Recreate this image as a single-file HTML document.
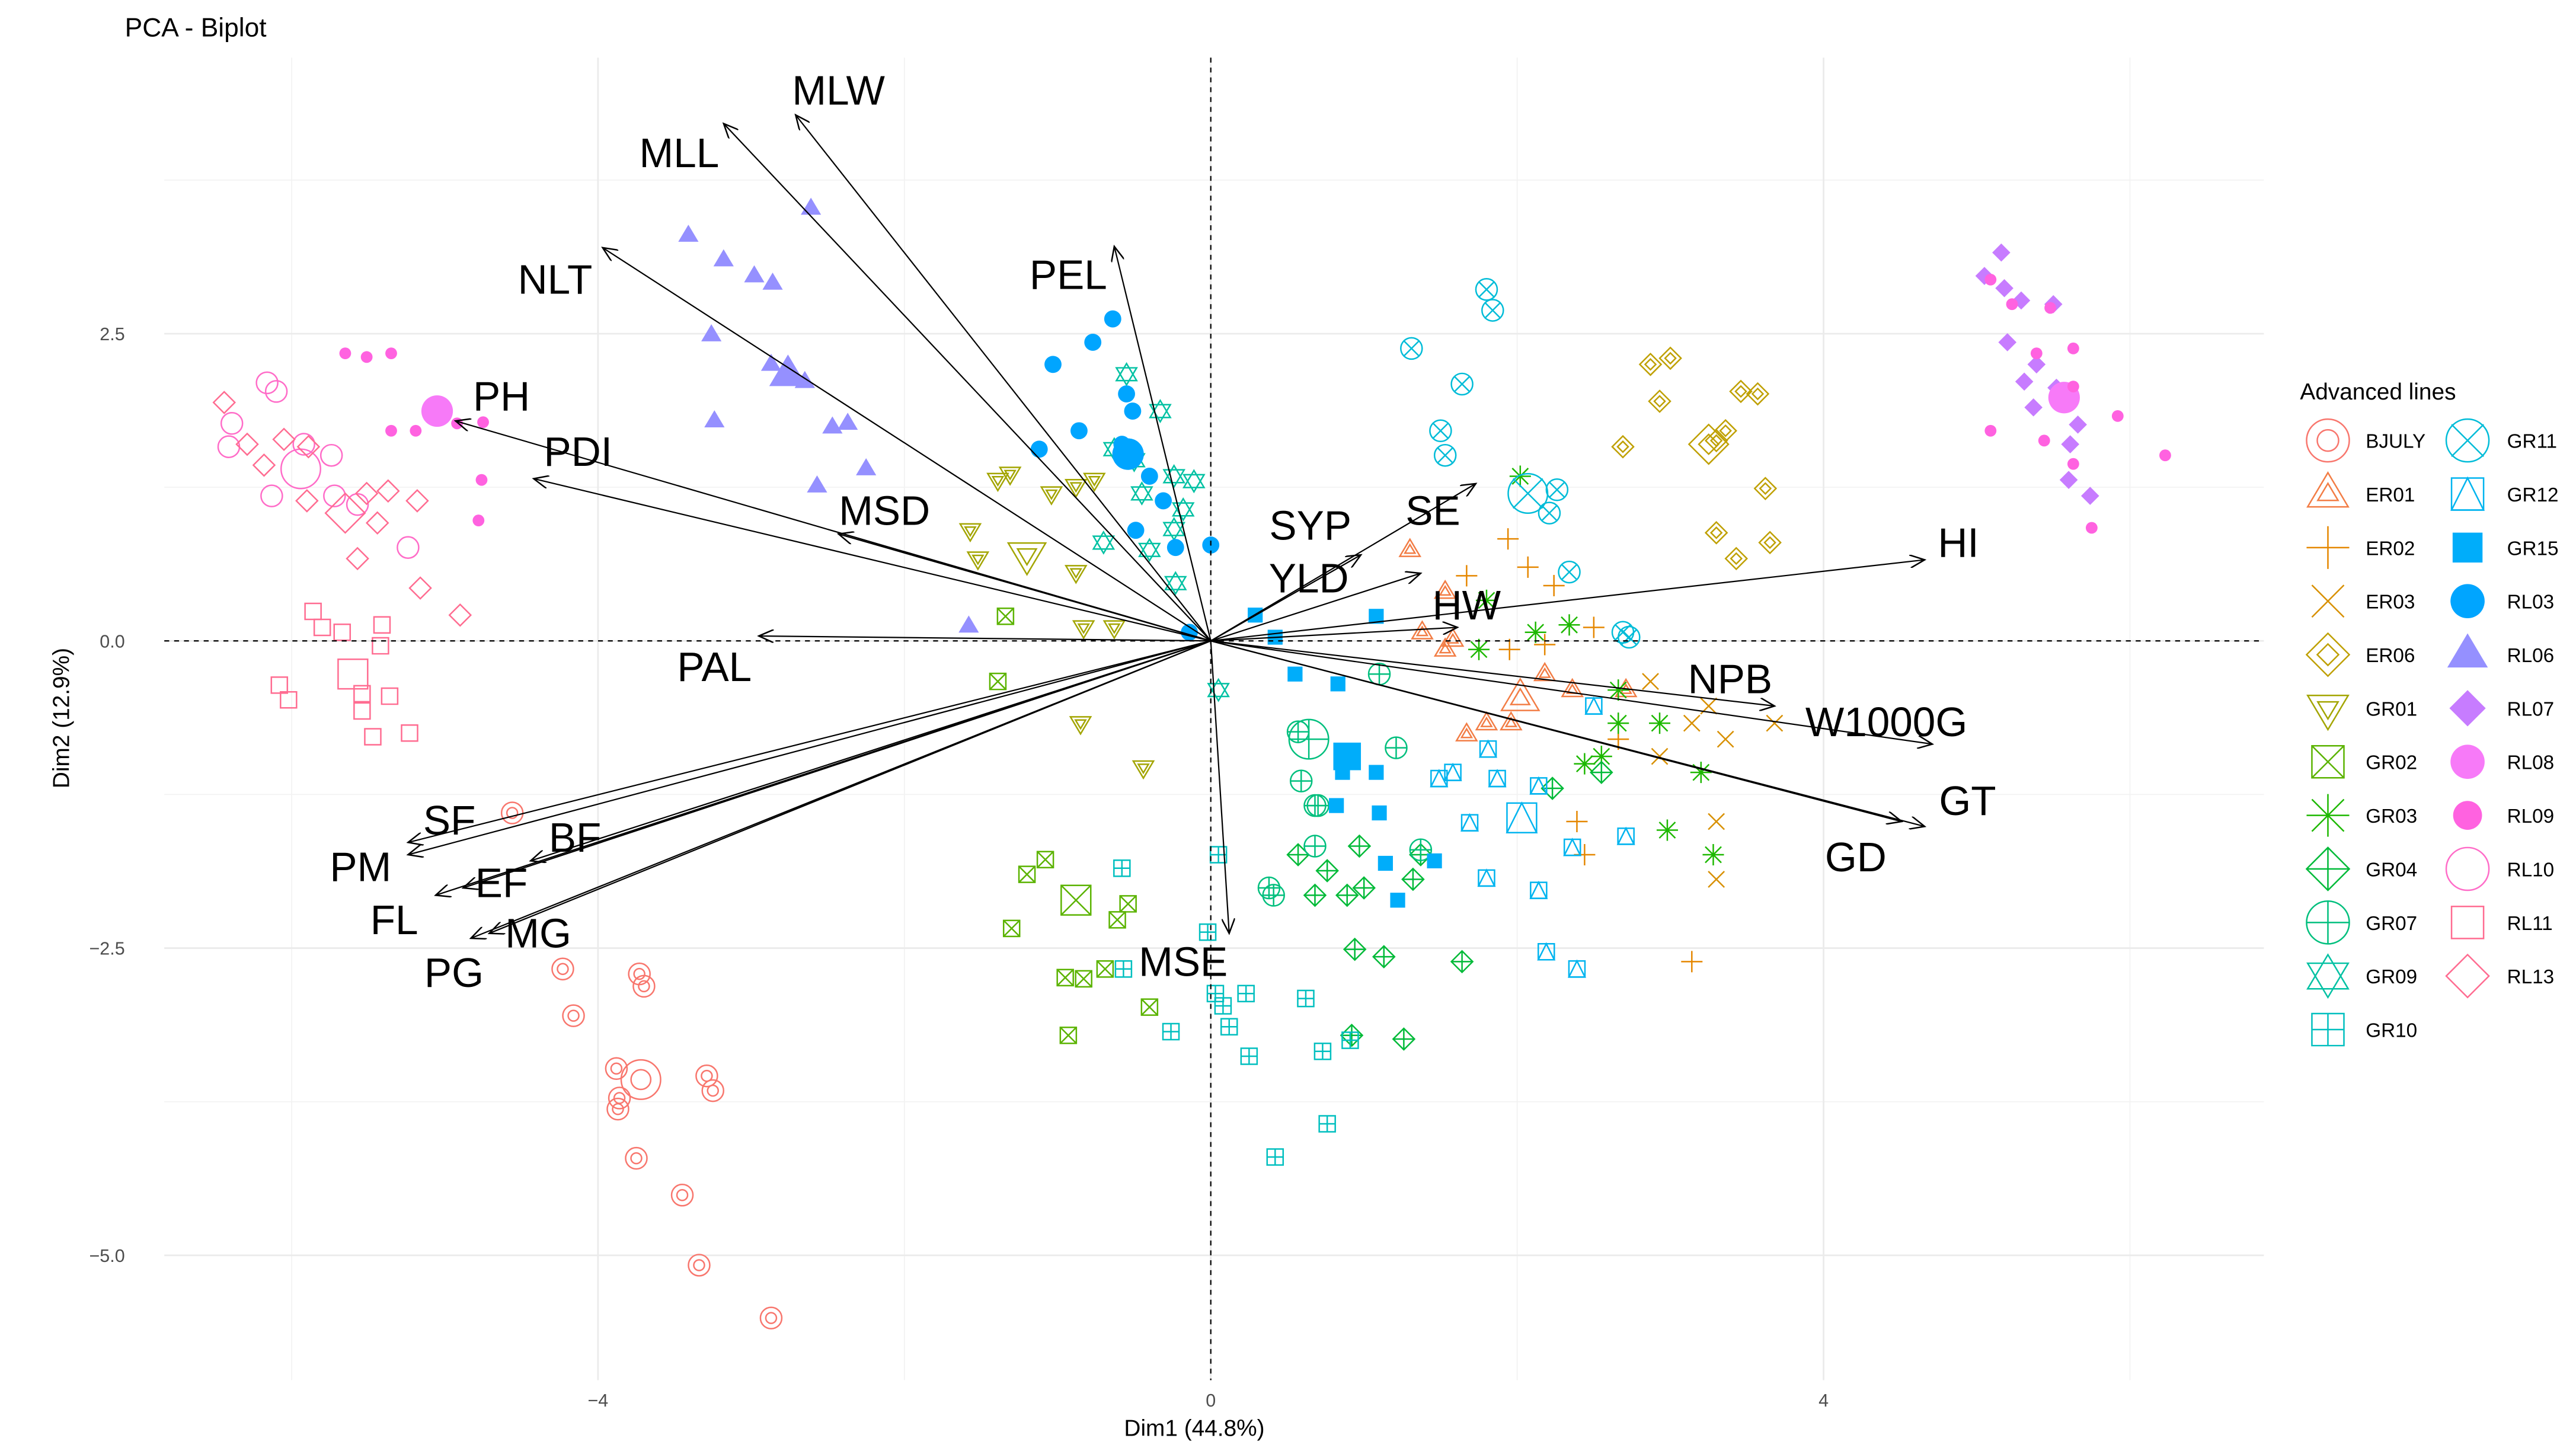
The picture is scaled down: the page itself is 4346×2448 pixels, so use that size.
<!DOCTYPE html>
<html><head><meta charset="utf-8"><style>html,body{margin:0;padding:0;background:#fff}svg{display:block}</style></head>
<body>
<svg id="chart" width="4346" height="2448" viewBox="0 0 1568 883" xmlns="http://www.w3.org/2000/svg" font-family="'Liberation Sans', Arial, sans-serif">
<text x="76" y="22" font-size="16" fill="#000">PCA - Biplot</text>
<g id="grid"></g><g id="pts"></g><g id="arrows"></g><g id="axes"></g><g id="legend"></g>
</svg>
<script>
const groupNames=["BJULY","ER01","ER02","ER03","ER06","GR01","GR02","GR03","GR04","GR07","GR09","GR10","GR11","GR12","GR15","RL03","RL06","RL07","RL08","RL09","RL10","RL11","RL13"];
const groupColors=["#F8766D","#F27D45","#E58700","#D89000","#BFA000","#A3A500","#5BB300","#1DB800","#00BA38","#00BF7D","#00C1A3","#00BFBF","#00BCD8","#00B4EF","#00ADFA","#00A5FF","#9590FF","#C77CFF","#F77AF8","#FF62E0","#FF6CC8","#FF6C91","#FF6C91"];
const groupShapes=["circle2","tri2","plus","x","diamond2","tridown2","sqx","asterisk","diamondplus","circleplus","star","sqplus","circlex","sqtri","sqfill","circfill","trifill","diamfill","circfillbig","circfillsmall","circle","square","diamond"];
const bigIdx=[8,5,-1,-1,8,4,2,-1,-1,10,-1,-1,6,5,5,6,7,-1,0,-1,5,4,6];
const xs=[
[-4.56,-4.23,-4.16,-3.73,-3.70,-3.88,-3.86,-3.87,-3.72,-3.29,-3.25,-3.75,-3.45,-3.34,-2.87],
[1.30,1.53,1.58,1.38,1.67,2.02,1.96,2.36,1.80,2.18,2.71,1.53],
[1.94,1.67,2.07,2.24,2.50,2.18,1.95,2.66,2.44,2.39,3.14],
[2.87,3.25,2.93,3.30,3.30,3.68,3.14,3.36],
[2.87,3.00,2.93,2.69,3.46,3.57,3.30,3.36,3.25,3.62,3.30,3.65,3.43],
[-1.31,-1.39,-1.57,-1.52,-1.20,-0.88,-1.04,-0.88,-0.76,-0.83,-0.63,-0.85,-0.44],
[-1.34,-1.39,-0.88,-1.20,-1.08,-1.30,-0.95,-0.83,-0.69,-0.93,-0.40,-0.54,-0.61],
[2.02,1.80,2.12,2.34,2.66,2.93,2.66,2.44,2.98,3.28,3.20,1.75,2.55],
[0.57,0.76,0.97,0.89,1.00,0.68,0.94,1.13,0.92,1.26,1.64,1.32,2.23,2.55,1.37],
[0.57,0.68,0.59,0.70,0.68,0.38,0.41,1.10,1.21,1.37,0.64],
[-0.55,-0.33,-0.63,-0.50,-0.24,-0.11,-0.24,-0.40,-0.23,-0.70,0.05,-0.45,-0.18],
[-0.58,-0.57,-0.26,0.05,-0.02,0.03,0.08,0.12,0.23,0.25,0.62,0.73,0.91,0.76,0.42],
[1.80,1.84,1.31,1.64,1.50,1.53,2.07,2.26,2.21,2.34,2.69,2.73],
[1.49,1.58,1.81,1.87,1.69,2.03,2.14,2.36,2.71,1.80,2.14,2.19,2.39,2.50],
[0.29,0.42,1.08,0.55,0.83,0.89,0.86,1.08,1.10,1.14,1.46,1.22,0.82],
[-0.64,-0.77,-1.03,-0.86,-0.55,-0.58,-0.54,-1.12,-0.40,-0.31,-0.49,-0.23,0.00,-0.14,-0.51],
[-3.41,-2.61,-3.18,-2.98,-2.86,-3.26,-2.87,-2.76,-2.65,-3.24,-2.47,-2.37,-2.25,-2.57,-1.58],
[5.16,5.05,5.18,5.29,5.50,5.20,5.39,5.31,5.52,5.37,5.66,5.61,5.74,5.60],
[5.57,-5.05],
[5.09,5.23,5.48,5.39,5.63,5.63,5.09,5.44,5.63,5.92,6.23,5.75,-5.65,-5.51,-5.35,-5.35,-5.19,-4.92,-4.75,-4.76,-4.78],
[-6.16,-6.10,-6.39,-6.41,-6.13,-5.94,-5.74,-5.72,-5.57,-5.24,-5.92],
[-5.86,-5.80,-5.67,-5.41,-5.60,-5.42,-6.08,-6.02,-5.54,-5.36,-5.54,-5.47,-5.23],
[-6.44,-6.29,-6.18,-6.05,-5.89,-5.90,-5.65,-5.51,-5.37,-5.18,-5.44,-5.57,-5.16,-4.90]];
const ys=[
[-1.40,-2.67,-3.05,-2.71,-2.81,-3.48,-3.72,-3.81,-3.57,-3.54,-3.66,-4.21,-4.51,-5.08,-5.51],
[0.74,0.40,0.01,0.07,-0.76,-0.47,-0.67,-0.40,-0.67,-0.27,-0.40,-0.07],
[0.83,0.53,0.60,0.45,0.11,-0.03,-0.07,-0.80,-1.74,-1.47,-2.61],
[-0.33,-0.53,-0.94,-1.47,-1.94,-0.67,-0.67,-0.80],
[2.25,2.30,1.95,1.58,2.03,2.01,1.63,1.71,1.60,1.24,0.88,0.80,0.67],
[1.36,1.31,0.90,0.67,0.70,0.56,1.20,1.26,1.31,0.11,0.11,-0.67,-1.03],
[0.20,-0.33,-2.11,-1.90,-1.78,-2.34,-2.74,-2.75,-2.67,-3.21,-2.98,-2.14,-2.27],
[1.34,0.33,0.07,0.13,-0.40,-0.67,-0.67,-1.00,-1.54,-1.74,-1.07,-0.07,-0.94],
[-1.74,-1.87,-1.67,-2.07,-2.01,-2.07,-2.51,-2.57,-3.21,-3.24,-2.61,-1.94,-1.20,-1.07,-1.74],
[-0.74,-1.34,-1.14,-1.34,-1.67,-2.01,-2.07,-0.27,-0.87,-1.70,-0.80],
[2.17,1.87,1.56,1.47,1.34,1.30,0.91,0.74,0.47,0.80,-0.40,1.20,1.07],
[-1.85,-2.67,-3.18,-1.74,-2.37,-2.87,-2.97,-3.14,-2.87,-3.38,-2.91,-3.34,-3.25,-3.93,-4.20],
[2.86,2.69,2.38,2.09,1.71,1.51,1.20,1.23,1.04,0.56,0.07,0.03],
[-1.12,-1.07,-0.88,-1.12,-1.48,-1.44,-1.18,-1.68,-1.59,-1.93,-2.03,-2.53,-2.67,-0.53],
[0.21,0.03,0.20,-0.27,-0.35,-0.94,-1.07,-1.07,-1.40,-1.81,-1.79,-2.11,-1.34],
[2.62,2.43,2.25,1.71,2.01,1.60,1.52,1.56,1.34,1.14,0.90,0.76,0.78,0.07,1.87],
[3.30,3.52,3.10,2.97,2.91,2.49,2.25,2.17,2.11,1.79,1.74,1.77,1.40,1.26,0.12],
[3.16,2.97,2.87,2.77,2.74,2.43,2.25,2.11,2.06,1.90,1.76,1.60,1.18,1.31],
[1.98,1.87],
[2.94,2.74,2.71,2.34,2.38,2.07,1.71,1.63,1.44,1.83,1.51,0.92,2.34,2.31,2.34,1.71,1.71,1.77,1.78,1.31,0.98],
[2.10,2.03,1.77,1.58,1.18,1.40,1.51,1.18,1.11,0.76,1.60],
[0.24,0.11,0.07,0.13,-0.27,-0.04,-0.36,-0.48,-0.43,-0.45,-0.57,-0.78,-0.75],
[1.94,1.60,1.43,1.64,1.58,1.14,1.04,1.20,1.22,1.14,0.96,0.67,0.43,0.21]];
const varNames=["MLW","MLL","NLT","PEL","PH","PDI","MSD","PAL","SF","PM","BF","EF","FL","PG","MG","MSE","SYP","YLD","SE","HW","HI","NPB","W1000G","GT","GD"];
const varX=[-2.71,-3.18,-3.97,-0.63,-4.93,-4.42,-2.43,-2.95,-5.24,-5.24,-4.44,-4.88,-5.06,-4.83,-4.71,0.12,0.98,1.37,1.73,1.61,4.66,3.68,4.71,4.66,4.51];
const varY=[4.28,4.21,3.20,3.21,1.79,1.32,0.87,0.04,-1.64,-1.74,-1.79,-2.01,-2.07,-2.42,-2.38,-2.38,0.70,0.55,1.28,0.11,0.66,-0.53,-0.84,-1.51,-1.47];
const labX=[-2.43,-3.47,-4.28,-0.93,-4.63,-4.13,-2.13,-3.24,-4.97,-5.55,-4.15,-4.63,-5.33,-4.94,-4.39,-0.18,0.65,0.64,1.45,1.67,4.88,3.39,4.41,4.94,4.21];
const labY=[4.48,3.97,2.94,2.98,1.99,1.54,1.06,-0.21,-1.46,-1.84,-1.60,-1.97,-2.27,-2.70,-2.38,-2.61,0.94,0.51,1.06,0.29,0.80,-0.31,-0.66,-1.30,-1.76];
const xTicks=[-4,0,4], yTicks=[-5,-2.5,0,2.5];
const NS="http://www.w3.org/2000/svg";
const X0=737,XS=93.25,Y0=390,YS=74.8,PL=100,PR=1378,PT=35,PB=840;
const sx=v=>X0+v*XS, sy=v=>Y0-v*YS;
function mk(tag,at,parent){const e=document.createElementNS(NS,tag);for(const k in at)e.setAttribute(k,at[k]);parent.appendChild(e);return e;}
const grid=document.getElementById('grid');
[-6,-2,2,6].forEach(v=>mk('line',{x1:sx(v),x2:sx(v),y1:PT,y2:PB,stroke:'#F2F2F2','stroke-width':0.6},grid));
[-3.75,-1.25,1.25,3.75].forEach(v=>mk('line',{x1:PL,x2:PR,y1:sy(v),y2:sy(v),stroke:'#F2F2F2','stroke-width':0.6},grid));
xTicks.forEach(v=>mk('line',{x1:sx(v),x2:sx(v),y1:PT,y2:PB,stroke:'#EBEBEB','stroke-width':1},grid));
yTicks.forEach(v=>mk('line',{x1:PL,x2:PR,y1:sy(v),y2:sy(v),stroke:'#EBEBEB','stroke-width':1},grid));
function shape(g,type,cx,cy,r,col){
  const s={stroke:col,fill:'none','stroke-width':0.9};
  const P=(pts,extra)=>mk('polygon',Object.assign({points:pts.map(p=>p.join(',')).join(' ')},s,extra||{}),g);
  const L=(x1,y1,x2,y2)=>mk('line',Object.assign({x1,y1,x2,y2},s),g);
  const tri=(k,d)=>[[cx,cy-k*d],[cx-k*0.95,cy+k*0.6*d],[cx+k*0.95,cy+k*0.6*d]];
  const dia=k=>[[cx,cy-k],[cx+k,cy],[cx,cy+k],[cx-k,cy]];
  const sq=k=>[[cx-k,cy-k],[cx+k,cy-k],[cx+k,cy+k],[cx-k,cy+k]];
  switch(type){
    case 'circle2':mk('circle',Object.assign({cx,cy,r},s),g);mk('circle',Object.assign({cx,cy,r:r*0.5},s),g);break;
    case 'circle':mk('circle',Object.assign({cx,cy,r},s),g);break;
    case 'tri2':P(tri(r,1));P(tri(r*0.5,1));break;
    case 'tridown2':P(tri(r,-1));P(tri(r*0.5,-1));break;
    case 'plus':L(cx-r,cy,cx+r,cy);L(cx,cy-r,cx,cy+r);break;
    case 'x':L(cx-r*.75,cy-r*.75,cx+r*.75,cy+r*.75);L(cx-r*.75,cy+r*.75,cx+r*.75,cy-r*.75);break;
    case 'asterisk':L(cx-r,cy,cx+r,cy);L(cx,cy-r,cx,cy+r);L(cx-r*.75,cy-r*.75,cx+r*.75,cy+r*.75);L(cx-r*.75,cy+r*.75,cx+r*.75,cy-r*.75);break;
    case 'diamond2':P(dia(r));P(dia(r*0.5));break;
    case 'diamond':P(dia(r));break;
    case 'diamondplus':P(dia(r));L(cx-r,cy,cx+r,cy);L(cx,cy-r,cx,cy+r);break;
    case 'sqx':P(sq(r*.75));L(cx-r*.75,cy-r*.75,cx+r*.75,cy+r*.75);L(cx-r*.75,cy+r*.75,cx+r*.75,cy-r*.75);break;
    case 'sqplus':P(sq(r*.75));L(cx-r*.75,cy,cx+r*.75,cy);L(cx,cy-r*.75,cx,cy+r*.75);break;
    case 'square':P(sq(r*.75));break;
    case 'sqtri':P(sq(r*.75));P([[cx,cy-r*.75],[cx-r*.75,cy+r*.75],[cx+r*.75,cy+r*.75]]);break;
    case 'circleplus':mk('circle',Object.assign({cx,cy,r},s),g);L(cx-r,cy,cx+r,cy);L(cx,cy-r,cx,cy+r);break;
    case 'circlex':mk('circle',Object.assign({cx,cy,r},s),g);L(cx-r*.75,cy-r*.75,cx+r*.75,cy+r*.75);L(cx-r*.75,cy+r*.75,cx+r*.75,cy-r*.75);break;
    case 'star':P(tri(r,1));P(tri(r,-1));break;
    case 'sqfill':mk('rect',{x:cx-r*.7,y:cy-r*.7,width:r*1.4,height:r*1.4,fill:col},g);break;
    case 'circfill':case 'circfillbig':mk('circle',{cx,cy,r:r*.8,fill:col},g);break;
    case 'circfillsmall':mk('circle',{cx,cy,r:r*.55,fill:col},g);break;
    case 'trifill':mk('polygon',{points:tri(r,1).map(p=>p.join(',')).join(' '),fill:col},g);break;
    case 'diamfill':mk('polygon',{points:dia(r*.85).map(p=>p.join(',')).join(' '),fill:col},g);break;
  }
}
const ptsG=document.getElementById('pts');
groupNames.forEach((gname,gi)=>{
  xs[gi].forEach((xv,i)=>{
    const g=document.createElementNS(NS,'g');ptsG.appendChild(g);
    
    
    const big=(i===bigIdx[gi])||groupShapes[gi]==='circfillbig';
    shape(g,groupShapes[gi],sx(xv),sy(ys[gi][i]),big?12:6.5,groupColors[gi]);
  });
});
const ax=document.getElementById('axes');
const defs=mk('defs',{},ax);
const m=mk('marker',{id:'ah',markerWidth:10,markerHeight:8,refX:9,refY:4,orient:'auto',markerUnits:'userSpaceOnUse'},defs);
mk('path',{d:'M0,0 L9,4 L0,8',fill:'none',stroke:'#000','stroke-width':0.9},m);
let e;
e=mk('line',{x1:sx(0),x2:sx(0),y1:PT,y2:PB,stroke:'#000','stroke-width':0.8,'stroke-dasharray':'3,3'},ax);

e=mk('line',{x1:PL,x2:PR,y1:sy(0),y2:sy(0),stroke:'#000','stroke-width':0.8,'stroke-dasharray':'3,3'},ax);

const arG=document.getElementById('arrows');
varNames.forEach((n,i)=>{
  const g=document.createElementNS(NS,'g');arG.appendChild(g);
  
  
  mk('line',{x1:sx(0),y1:sy(0),x2:sx(varX[i]),y2:sy(varY[i]),stroke:'#000','stroke-width':0.8,'marker-end':'url(#ah)'},g);
  const t=mk('text',{x:sx(labX[i]),y:sy(labY[i]),'text-anchor':'middle','dominant-baseline':'central','font-size':25,fill:'#000'},g);
  t.textContent=n;
});
xTicks.forEach(v=>{const t=mk('text',{x:sx(v),y:PB+16,'text-anchor':'middle','font-size':11,fill:'#4D4D4D'},ax);t.textContent=v<0?'\u2212'+(-v):String(v);
});
yTicks.forEach(v=>{const t=mk('text',{x:PL-24,y:sy(v)+4,'text-anchor':'end','font-size':11,fill:'#4D4D4D'},ax);t.textContent=v<0?'\u2212'+(-v).toFixed(1):v.toFixed(1);
});
e=mk('text',{x:727,y:874,'text-anchor':'middle','font-size':14,fill:'#000'},ax);e.textContent='Dim1 (44.8%)';

e=mk('text',{x:0,y:0,'text-anchor':'middle','font-size':14,fill:'#000',transform:'translate(42,437) rotate(-90)'},ax);e.textContent='Dim2 (12.9%)';

const lg=document.getElementById('legend');
e=mk('text',{x:1400,y:243,'font-size':14,fill:'#000'},lg);e.textContent='Advanced lines';

groupNames.forEach((n,i)=>{
  const col=i<12?0:1,row=i<12?i:i-12;
  const cx=col?1502:1417,cy=268+row*32.6;
  const g=document.createElementNS(NS,'g');lg.appendChild(g);
  
  
  shape(g,groupShapes[i],cx,cy,groupShapes[i]==='circfillsmall'?16:13,groupColors[i]);
  const t=mk('text',{x:col?1526:1440,y:cy+4.5,'font-size':12,fill:'#000'},g);t.textContent=n;
});
</script>
</body></html>
